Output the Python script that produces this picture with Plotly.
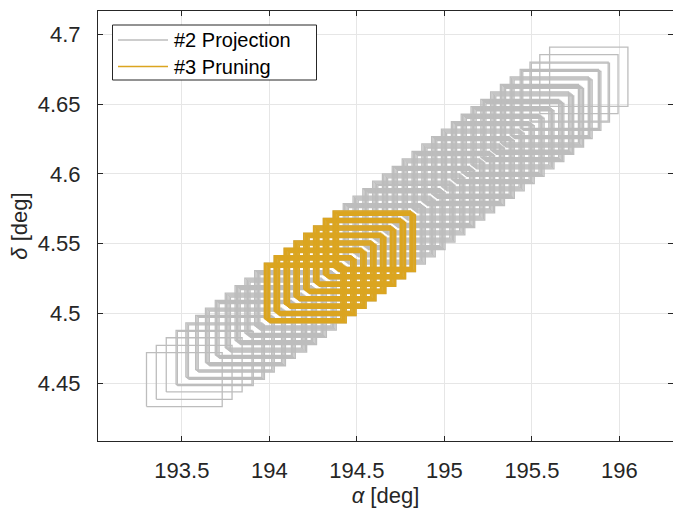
import plotly.graph_objects as go

# ---- data -----------------------------------------------------------------
# upper-left corner (alpha, top delta) of each projected field-of-view cluster
cluster_alpha = [193.298, 193.354, 193.411, 193.467, 193.523, 193.579, 193.635, 193.691, 193.748, 193.804,
                 193.860, 193.916, 193.972, 194.028, 194.085, 194.141, 194.197, 194.253, 194.309, 194.365,
                 194.422, 194.478, 194.534, 194.590, 194.646, 194.702, 194.759, 194.815, 194.871, 194.927,
                 194.983, 195.040, 195.096, 195.152, 195.208, 195.264, 195.320, 195.376, 195.433, 195.489,
                 195.545, 195.601]
cluster_delta_top = [4.4718, 4.4771, 4.4825, 4.4878, 4.4932, 4.4985, 4.5038, 4.5092, 4.5145, 4.5199,
                     4.5252, 4.5306, 4.5359, 4.5412, 4.5466, 4.5519, 4.5573, 4.5626, 4.5680, 4.5733,
                     4.5786, 4.5840, 4.5893, 4.5947, 4.6000, 4.6054, 4.6107, 4.6160, 4.6214, 4.6267,
                     4.6321, 4.6374, 4.6427, 4.6481, 4.6534, 4.6588, 4.6641, 4.6695, 4.6748, 4.6801,
                     4.6855, 4.6908]
fov_width = [0.4326, 0.4329, 0.4333, 0.4337, 0.4340, 0.4344, 0.4347, 0.4351, 0.4355, 0.4358,
             0.4362, 0.4366, 0.4369, 0.4373, 0.4376, 0.4380, 0.4384, 0.4387, 0.4391, 0.4395,
             0.4398, 0.4402, 0.4405, 0.4409, 0.4413, 0.4416, 0.4420, 0.4423, 0.4427, 0.4431,
             0.4434, 0.4438, 0.4442, 0.4445, 0.4449, 0.4452, 0.4456, 0.4460, 0.4463, 0.4467,
             0.4470, 0.4474]
fov_height = [0.03866, 0.03875, 0.03885, 0.03894, 0.03903, 0.03912, 0.03922, 0.03931, 0.03940, 0.03949,
              0.03959, 0.03968, 0.03977, 0.03986, 0.03996, 0.04005, 0.04014, 0.04023, 0.04033, 0.04042,
              0.04051, 0.04060, 0.04070, 0.04079, 0.04088, 0.04098, 0.04107, 0.04116, 0.04125, 0.04135,
              0.04144, 0.04153, 0.04162, 0.04172, 0.04181, 0.04190, 0.04199, 0.04209, 0.04218, 0.04227,
              0.04236, 0.04246]
# number of boxes stacked in each cluster (#2 projection)
gray_count = [1, 1, 1, 2, 3, 3, 4, 4, 5, 5, 5, 5, 5, 5, 5, 5, 5, 5, 5, 5,
              5, 5, 5, 5, 5, 5, 5, 5, 5, 5, 5, 5, 5, 5, 5, 5, 5, 4, 3, 2,
              1, 1]
# clusters surviving pruning (#3) and their stacked boxes
gold_clusters = [12, 13, 14, 15, 16, 17, 18, 19]
gold_count = [5, 5, 5, 5, 5, 5, 5, 5]
# small shift between stacked boxes of a cluster (deg)
stack_shift = (0.0074, -0.00072)

xticks = [193.5, 194, 194.5, 195, 195.5, 196]
yticks = [4.45, 4.5, 4.55, 4.6, 4.65, 4.7]


def boxes(clusters, counts, shift):
    xs, ys = [], []
    for k, n in zip(clusters, counts):
        for m in range(n):
            a0 = cluster_alpha[k] + m * shift[0]
            a1 = a0 + fov_width[k]
            d1 = cluster_delta_top[k] + m * shift[1]
            d0 = d1 - fov_height[k]
            xs += [a0, a1, a1, a0, a0, None]
            ys += [d0, d0, d1, d1, d0, None]
    return xs, ys


gx, gy = boxes(list(range(len(cluster_alpha))), gray_count, stack_shift)
ox, oy = boxes(gold_clusters, gold_count, stack_shift)

GRAY = "#bdbdbd"
GOLD = "#dba520"

fig = go.Figure()
fig.add_trace(go.Scatter(x=gx, y=gy, mode="lines", line=dict(color=GRAY, width=1.3),
                         name="#2 Projection", showlegend=False, hoverinfo="skip"))
fig.add_trace(go.Scatter(x=ox, y=oy, mode="lines", line=dict(color=GOLD, width=1.6),
                         name="#3 Pruning", showlegend=False, hoverinfo="skip"))

W, H = 673, 508
ML, MR, MT, MB = 98, 0, 11, 67
PW, PH = W - ML - MR, H - MT - MB


def px(x):
    return (x - ML) / PW


def py(y):
    return (H - MB - y) / PH


# legend drawn to match the original
shapes = [dict(type="rect", xref="paper", yref="paper", x0=px(112.5), x1=px(316.5),
               y0=py(80), y1=py(25), line=dict(color="#262626", width=1), fillcolor="white", layer="above"),
          dict(type="line", xref="paper", yref="paper", x0=px(118), x1=px(168), y0=py(40), y1=py(40),
               line=dict(color=GRAY, width=1.5), layer="above"),
          dict(type="line", xref="paper", yref="paper", x0=px(118), x1=px(168), y0=py(66.5), y1=py(66.5),
               line=dict(color=GOLD, width=1.5), layer="above")]
lfont = dict(family="Liberation Sans, Arial, sans-serif", size=20, color="#000000")
annotations = [dict(xref="paper", yref="paper", x=px(172), y=py(40), text="#2 Projection",
                    showarrow=False, xanchor="left", yanchor="middle", font=lfont),
               dict(xref="paper", yref="paper", x=px(172), y=py(66.5), text="#3 Pruning",
                    showarrow=False, xanchor="left", yanchor="middle", font=lfont)]

font = dict(family="Liberation Sans, Arial, sans-serif", size=22, color="#262626")
axis_common = dict(showgrid=True, gridcolor="#e6e6e6", gridwidth=1, zeroline=False,
                   showline=True, linecolor="#262626", linewidth=1, mirror="ticks",
                   ticks="inside", ticklen=5, tickcolor="#262626", tickfont=font)
fig.update_layout(
    width=W, height=H,
    margin=dict(l=ML, r=MR, t=MT, b=MB),
    paper_bgcolor="white", plot_bgcolor="white",
    font=font, showlegend=False,
    shapes=shapes, annotations=annotations,
    xaxis=dict(range=[193.021, 196.306], tickvals=xticks,
               ticktext=["193.5", "194", "194.5", "195", "195.5", "196"],
               ticklabelstandoff=10,
               title=dict(text="<i>α</i> [deg]", standoff=4, font=font), **axis_common),
    yaxis=dict(range=[4.4085, 4.7167], tickvals=yticks,
               ticktext=["4.45", "4.5", "4.55", "4.6", "4.65", "4.7"],
               ticklabelstandoff=12,
               title=dict(text="<i>δ</i> [deg]", standoff=4, font=font), **axis_common),
)
fig.write_html("out.html")
